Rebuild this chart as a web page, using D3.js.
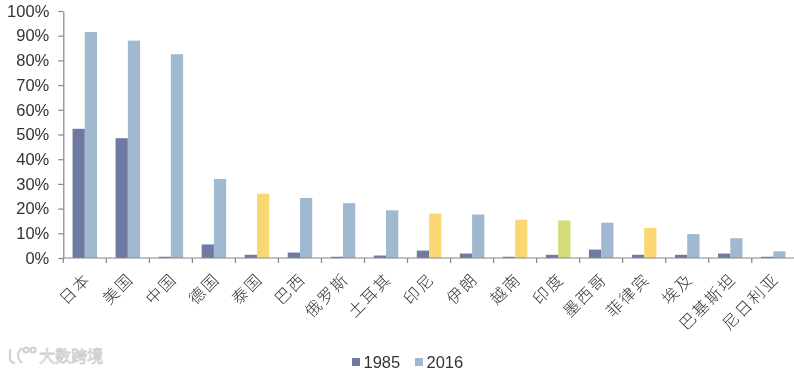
<!DOCTYPE html>
<html>
<head>
<meta charset="utf-8">
<script src="https://cdn.jsdelivr.net/npm/d3@7"></script>
<style>
  html, body { margin: 0; padding: 0; background: #fff; }
  svg { display: block; }
  text { font-family: "Liberation Sans", Arial, sans-serif; fill: #333; }
  .cat { filter: grayscale(1); }
  .cat text { font-family: "Noto Sans CJK SC", sans-serif; font-weight: 300; fill: #333; }
  .plain { filter: grayscale(1); }
</style>
</head>
<body>
<svg width="794" height="371" viewBox="0 0 794 371"></svg>
<script>
const categories = ['日本', '美国', '中国', '德国', '泰国', '巴西', '俄罗斯', '土耳其', '印尼', '伊朗', '越南', '印度', '墨西哥', '菲律宾', '埃及', '巴基斯坦', '尼日利亚']
const values1985 = [52.3, 48.5, 0.5, 5.5, 1.3, 2.2, 0.5, 1, 3, 1.8, 0.5, 1.3, 3.4, 1.3, 1.3, 1.8, 0.5]
const values2016 = [91.5, 88, 82.5, 32, 26, 24.3, 22.2, 19.3, 18, 17.6, 15.5, 15.2, 14.3, 12.2, 9.7, 8, 2.7]
const groups2016 = ['b', 'b', 'b', 'b', 'y', 'b', 'b', 'b', 'y', 'b', 'y', 'g', 'b', 'y', 'b', 'b', 'b']
const yTicks = [0, 10, 20, 30, 40, 50, 60, 70, 80, 90, 100]
const seriesNames = ['1985', '2016']

const color1985 = '#6f7aa3'
const colors2016 = { b: '#a0b9d0', y: '#fbd774', g: '#d4dc7a' }
const axisColor = '#868686'

const svg = d3.select('svg')
const margin = { top: 11, left: 63.3, bottom: 113, right: 0 }
const width = 794
const height = 371

const x = d3.scaleBand()
  .domain(categories)
  .range([margin.left, margin.left + 43.03 * categories.length])
  .paddingInner(0.43)
  .paddingOuter(0.215)

const y = d3.scaleLinear().domain([0, 100]).range([height - margin.bottom, margin.top])

const barW = x.bandwidth() / 2

const rows = categories.map((c, i) => ({ c, a: values1985[i], b: values2016[i], g: groups2016[i] }))

svg.append('g').selectAll('rect').data(rows).join('rect')
  .attr('x', d => x(d.c))
  .attr('y', d => y(d.a))
  .attr('width', barW)
  .attr('height', d => y(0) - y(d.a))
  .attr('fill', color1985)

svg.append('g').selectAll('rect').data(rows).join('rect')
  .attr('x', d => x(d.c) + barW)
  .attr('y', d => y(d.b))
  .attr('width', barW)
  .attr('height', d => y(0) - y(d.b))
  .attr('fill', d => colors2016[d.g])

// y axis
const yAxis = svg.append('g')
  .attr('class', 'plain')
  .attr('transform', `translate(${margin.left},0)`)
  .call(d3.axisLeft(y).tickValues(yTicks).tickFormat(n => `${n}%`).tickSize(5).tickPadding(9).tickSizeOuter(0))
yAxis.selectAll('path, line').attr('stroke', axisColor).attr('stroke-width', 1.2)
yAxis.selectAll('text').attr('font-size', 16.5).style('font-family', '"Liberation Sans", Arial, sans-serif').attr('fill', '#333')

// x axis, ticks sit between the categories
const tickX = d => x(d) - (x.step() - x.bandwidth()) / 2
const xAxis = svg.append('g').attr('transform', `translate(0,${y(0)})`)
xAxis.append('line')
  .attr('x1', margin.left).attr('x2', width)
  .attr('stroke', axisColor).attr('stroke-width', 1.2)
xAxis.selectAll('line.tick').data(categories).join('line')
  .attr('class', 'tick')
  .attr('x1', tickX)
  .attr('x2', tickX)
  .attr('y1', 0).attr('y2', 5)
  .attr('stroke', axisColor).attr('stroke-width', 1.2)

const labels = svg.append('g').attr('class', 'cat')
labels.selectAll('text').data(categories).join('text')
  .attr('text-anchor', 'end')
  .attr('font-size', 16)
  .attr('letter-spacing', 2)
  .attr('transform', d => `translate(${x(d) + x.bandwidth() / 2 + 7},${y(0) + 22}) rotate(-45)`)
  .text(d => d)

// legend
const legendItems = [
  { name: seriesNames[0], color: color1985, x: 352 },
  { name: seriesNames[1], color: colors2016.b, x: 415 }
]
const legend = svg.append('g').selectAll('g').data(legendItems).join('g')
  .attr('transform', d => `translate(${d.x},362)`)
legend.append('rect')
  .attr('width', 8).attr('height', 8).attr('y', -4)
  .attr('fill', d => d.color)
legend.append('text')
  .attr('class', 'plain')
  .attr('x', 11.5).attr('y', 6)
  .attr('font-size', 16.5)
  .text(d => d.name)

// watermark
const mark = svg.append('g').attr('fill', 'none').attr('stroke', '#cfcfcf').attr('stroke-width', 2)
mark.append('path').attr('d', 'M10 349 V358 Q10 363 15 363 M22 348 Q14 355 22 363')
mark.append('circle').attr('cx', 26).attr('cy', 350).attr('r', 2.5)
mark.append('circle').attr('cx', 33).attr('cy', 350).attr('r', 2.5)
svg.append('text')
  .attr('x', 39).attr('y', 362)
  .attr('font-size', 16)
  .style('font-family', '"Noto Sans CJK SC", sans-serif')
  .style('fill', '#fff')
  .attr('stroke', '#cdcdcd')
  .attr('stroke-width', 0.8)
  .text('大数跨境')
</script>
</body>
</html>
